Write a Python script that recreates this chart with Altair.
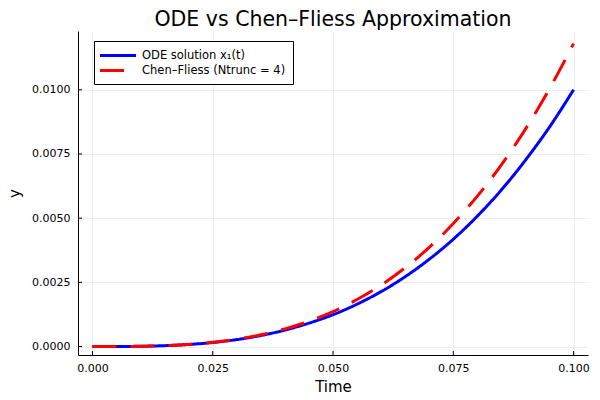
import altair as alt
import pandas as pd

# Time grid and series
time = [0.000, 0.005, 0.010, 0.015, 0.020, 0.025, 0.030, 0.035, 0.040, 0.045,
        0.050, 0.055, 0.060, 0.065, 0.070, 0.075, 0.080, 0.085, 0.090, 0.095, 0.100]
ode = [0.0, 0.0000013, 0.00001, 0.000034, 0.00008, 0.000156, 0.00027, 0.000429,
       0.00064, 0.000911, 0.00124, 0.00165, 0.00214, 0.00272, 0.00340, 0.00418,
       0.00508, 0.00610, 0.00726, 0.00855, 0.01000]
chen = [0.0, 0.0000013, 0.0000102, 0.0000347, 0.0000829, 0.000163, 0.000285, 0.000456,
        0.000686, 0.000985, 0.00136, 0.00183, 0.00239, 0.00307, 0.00386, 0.00479,
        0.00586, 0.00708, 0.00847, 0.01004, 0.01180]
series_names = ["ODE solution x\u2081(t)", "Chen\u2013Fliess (Ntrunc = 4)"]
series_colors = ["#0000ff", "#ff0000"]
x_ticks = [0.0, 0.025, 0.05, 0.075, 0.1]
y_ticks = [0.0, 0.0025, 0.005, 0.0075, 0.01]

W, H = 510, 324

df = pd.DataFrame(
    {"t": time * 2,
     "v": ode + chen,
     "s": [series_names[0]] * len(time) + [series_names[1]] * len(time),
     "k": [0] * len(time) + [1] * len(time)}
)

xs = alt.Scale(domain=[-0.003, 0.103], nice=False, zero=False)
ys = alt.Scale(domain=[-0.00033, 0.01229], nice=False, zero=False)

leg = alt.Legend(title=None, orient="none", legendX=16, legendY=10)

lines = alt.Chart(df).mark_line(strokeWidth=3, strokeCap="butt", interpolate="monotone").encode(
    x=alt.X("t:Q", scale=xs,
            axis=alt.Axis(title="Time", values=x_ticks, format=".3f", grid=True,
                          tickSize=0, labelPadding=7)),
    y=alt.Y("v:Q", scale=ys,
            axis=alt.Axis(title="y", values=y_ticks, format=".4f", grid=True,
                          tickSize=0, labelPadding=8)),
    color=alt.Color("s:N", scale=alt.Scale(domain=series_names, range=series_colors),
                    legend=leg),
    strokeDash=alt.StrokeDash("s:N", scale=alt.Scale(domain=series_names, range=[[1, 0], [24, 14]]),
                              legend=leg),
    order="k:Q",
)

xt = alt.Chart(pd.DataFrame({"t": x_ticks})).mark_rule(color="black", strokeWidth=1).encode(
    x=alt.X("t:Q", scale=xs), y=alt.value(H), y2=alt.value(H - 4))
yt = alt.Chart(pd.DataFrame({"v": y_ticks})).mark_rule(color="black", strokeWidth=1).encode(
    y=alt.Y("v:Q", scale=ys), x=alt.value(0), x2=alt.value(4))

chart = alt.layer(lines, xt, yt).properties(
    width=W, height=H,
    title=alt.TitleParams("ODE vs Chen\u2013Fliess Approximation", fontSize=20.5,
                          fontWeight="normal", font="DejaVu Sans", anchor="middle",
                          offset=1, color="black"),
    autosize=alt.AutoSizeParams(type="none"),
    padding={"left": 70, "top": 23, "right": 4, "bottom": 45},
).configure_view(stroke=None).configure_axis(
    domainColor="black", domainWidth=1, gridColor="#ececec", gridWidth=1,
    labelFont="DejaVu Sans", labelFontSize=11, labelColor="black",
    titleFont="DejaVu Sans", titleFontSize=15, titleFontWeight="normal", titleColor="black",
).configure_axisX(titlePadding=6).configure_axisY(titlePadding=9).configure_legend(
    strokeColor="black", fillColor="white", padding=7, cornerRadius=0,
    labelFont="DejaVu Sans", labelFontSize=11.5, labelColor="black",
    symbolType="M-3,0H3", symbolSize=144, symbolStrokeWidth=3, rowPadding=1,
    symbolOffset=9.5, labelOffset=16.5,
)

chart.save("out.html", embed_options={"renderer": "svg", "actions": False})
